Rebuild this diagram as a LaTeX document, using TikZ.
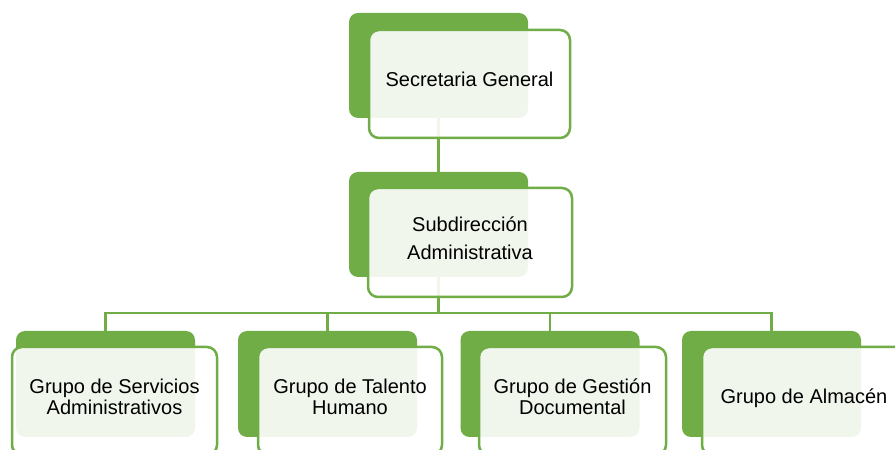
\documentclass[tikz,border=0pt]{standalone}
\usepackage{fontspec}
\setmainfont{Liberation Sans}
\definecolor{orggreen}{HTML}{70AD47}

\begin{document}
\begin{tikzpicture}[x=1pt, y=1pt,
    back/.style={fill=orggreen, rounded corners=9pt, inner sep=0pt,
                 minimum width=179pt, minimum height=105pt},
    unit/.style={draw=orggreen, line width=2.5pt, fill=white, fill opacity=0.9,
                 text opacity=1, rounded corners=10pt, minimum height=108pt,
                 align=center, text depth=9pt, font=\fontsize{20}{28}\selectfont},
    leaf/.style={unit, font=\fontsize{20}{21}\selectfont},
    link/.style={draw=orggreen, line width=2.2pt},
]
\useasboundingbox (0,0) rectangle (895,450);
\clip (0,0) rectangle (895,450);
% green back plates
\node[back] (secb)  at (438.5,384.5) {};
\node[back] (subb)  at (438.5,225.5) {};
\node[back, minimum height=106pt] (servb) at (105.5,66) {};
\node[back, minimum height=106pt] (talb)  at (327.5,66) {};
\node[back, minimum height=106pt] (gestb) at (550,66) {};
\node[back, minimum height=106pt] (almb)  at (771.5,66) {};
% connectors
\draw[link] (secb.south) -- (subb.north);
\draw[link] (subb.south) -- ++(0,-36) -| (servb.north);
\draw[link] (subb.south) -- ++(0,-36) -| (talb.north);
\draw[link] (subb.south) -- ++(0,-36) -| (gestb.north);
\draw[link] (subb.south) -- ++(0,-36) -| (almb.north);
% front boxes
\node[unit, minimum width=201pt] (sec) at (469.5,366) {Secretaria General};
\node[unit, minimum width=204pt, minimum height=109pt] (sub) at (470,207.5)
    {Subdirección\\Administrativa};
\node[leaf, minimum width=205pt] (serv) at (114.5,49)
    {Grupo de Servicios\\Administrativos};
\node[leaf, minimum width=184pt] (tal) at (350,49)
    {Grupo de Talento\\Humano};
\node[leaf, minimum width=187pt] (gest) at (572.5,49)
    {Grupo de Gestión\\Documental};
\node[leaf, minimum width=204pt] (alm) at (804,49) {Grupo de Almacén};
\end{tikzpicture}
\end{document}
